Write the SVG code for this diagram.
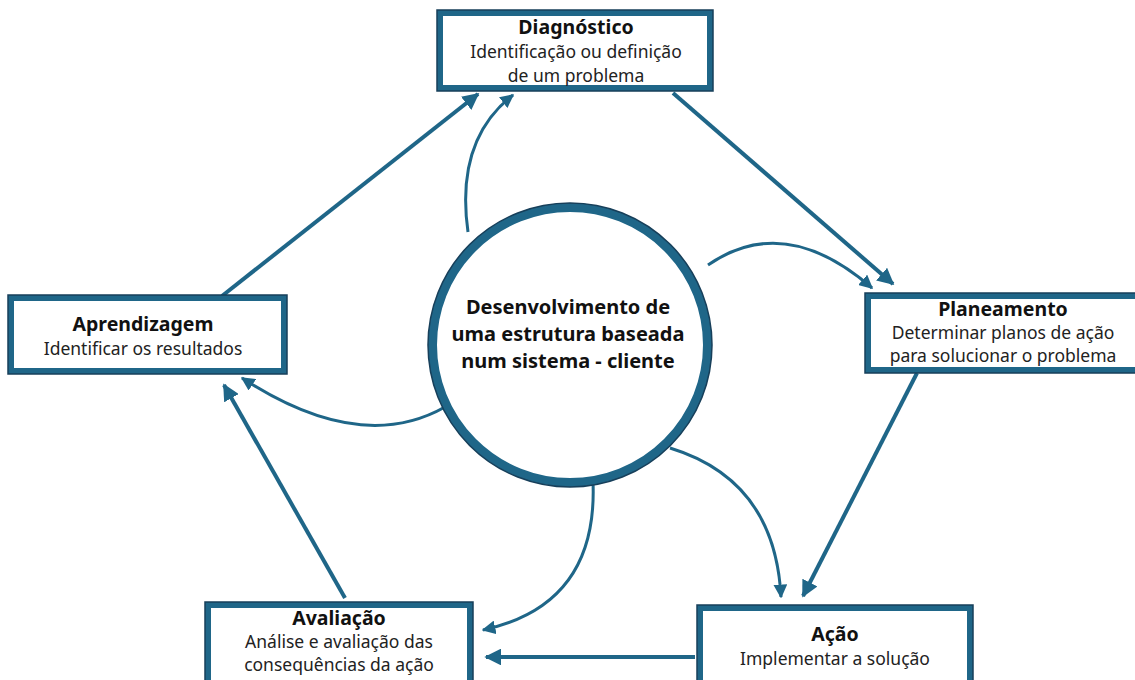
<svg xmlns="http://www.w3.org/2000/svg" width="1135" height="680" viewBox="0 0 1135 680">
  <style>
    .box { fill: #ffffff; stroke: #1f6688; stroke-width: 6; }
    .edge { fill: none; stroke: #173f5a; stroke-width: 1.5; }
    .title { font-family: "Noto Sans", "Liberation Sans", sans-serif; font-weight: bold; font-size: 19.5px; fill: #111111; text-anchor: middle; }
    .sub { font-family: "Noto Sans", "Liberation Sans", sans-serif; font-size: 17.5px; fill: #222222; text-anchor: middle; }
    .hub { font-family: "Noto Sans", "Liberation Sans", sans-serif; font-weight: bold; font-size: 20px; fill: #111111; text-anchor: middle; }
    .flow { fill: none; stroke: #1f6688; stroke-width: 4; }
    .branch { fill: none; stroke: #1f6688; stroke-width: 3; }
  </style>
  <defs>
    <marker id="headBig" viewBox="0 0 10 10" refX="9" refY="5" markerWidth="4.2" markerHeight="4.2" orient="auto" markerUnits="strokeWidth">
      <path d="M0,0 L10,5 L0,10 z" fill="#1f6688"/>
    </marker>
    <marker id="headSmall" viewBox="0 0 10 10" refX="9" refY="5" markerWidth="4.6" markerHeight="4.6" orient="auto" markerUnits="strokeWidth">
      <path d="M0,0 L10,5 L0,10 z" fill="#1f6688"/>
    </marker>
  </defs>

  <rect width="1135" height="680" fill="#ffffff"/>

  <!-- connectors -->
  <g id="connectors">
    <!-- cycle arrows -->
    <line class="flow" x1="673" y1="93" x2="893" y2="284" marker-end="url(#headBig)"/>
    <line class="flow" x1="917" y1="373" x2="803" y2="596" marker-end="url(#headBig)"/>
    <line class="flow" x1="695" y1="657" x2="486" y2="657" marker-end="url(#headBig)"/>
    <line class="flow" x1="345" y1="598" x2="224" y2="385" marker-end="url(#headBig)"/>
    <line class="flow" x1="222" y1="296" x2="478" y2="94" marker-end="url(#headBig)"/>
    <!-- arrows from the central circle -->
    <path class="branch" d="M468,232 Q455,140 513,95" marker-end="url(#headSmall)"/>
    <path class="branch" d="M708,265 Q785,212 872,288" marker-end="url(#headSmall)"/>
    <path class="branch" d="M670,448 Q775,480 781,597" marker-end="url(#headSmall)"/>
    <path class="branch" d="M593,482 Q598,605 483,630" marker-end="url(#headSmall)"/>
    <path class="branch" d="M445,407 Q360,455 242,378" marker-end="url(#headSmall)"/>
  </g>

  <!-- central circle -->
  <g id="hub">
    <circle cx="570" cy="345" r="137.5" fill="#ffffff" stroke="#1f6688" stroke-width="9"/>
    <circle cx="570" cy="345" r="142" fill="none" stroke="#173f5a" stroke-width="1.5"/>
    <text class="hub" x="568" y="314">Desenvolvimento de</text>
    <text class="hub" x="568" y="341">uma estrutura baseada</text>
    <text class="hub" x="568" y="368">num sistema - cliente</text>
  </g>

  <g id="diagnostico">
    <rect class="box" x="440" y="13" width="270" height="75"/>
    <rect class="edge" x="437" y="10" width="276" height="81"/>
    <text class="title" x="576" y="34">Diagnóstico</text>
    <text class="sub" x="576" y="58">Identificação ou definição</text>
    <text class="sub" x="576" y="82">de um problema</text>
  </g>

  <g id="planeamento">
    <rect class="box" x="868" y="296" width="275" height="74"/>
    <rect class="edge" x="865" y="293" width="281" height="80"/>
    <text class="title" x="1003" y="316">Planeamento</text>
    <text class="sub" x="1003" y="339">Determinar planos de ação</text>
    <text class="sub" x="1003" y="362">para solucionar o problema</text>
  </g>

  <g id="aprendizagem">
    <rect class="box" x="11" y="298" width="273" height="73"/>
    <rect class="edge" x="8" y="295" width="279" height="79"/>
    <text class="title" x="143" y="331">Aprendizagem</text>
    <text class="sub" x="143" y="355">Identificar os resultados</text>
  </g>

  <g id="avaliacao">
    <rect class="box" x="208" y="605" width="262" height="85"/>
    <rect class="edge" x="205" y="602" width="268" height="91"/>
    <text class="title" x="339" y="625">Avaliação</text>
    <text class="sub" x="339" y="648">Análise e avaliação das</text>
    <text class="sub" x="339" y="671">consequências da ação</text>
  </g>

  <g id="acao">
    <rect class="box" x="700" y="608" width="270" height="82"/>
    <rect class="edge" x="697" y="605" width="276" height="88"/>
    <text class="title" x="835" y="641">Ação</text>
    <text class="sub" x="835" y="665">Implementar a solução</text>
  </g>
</svg>
